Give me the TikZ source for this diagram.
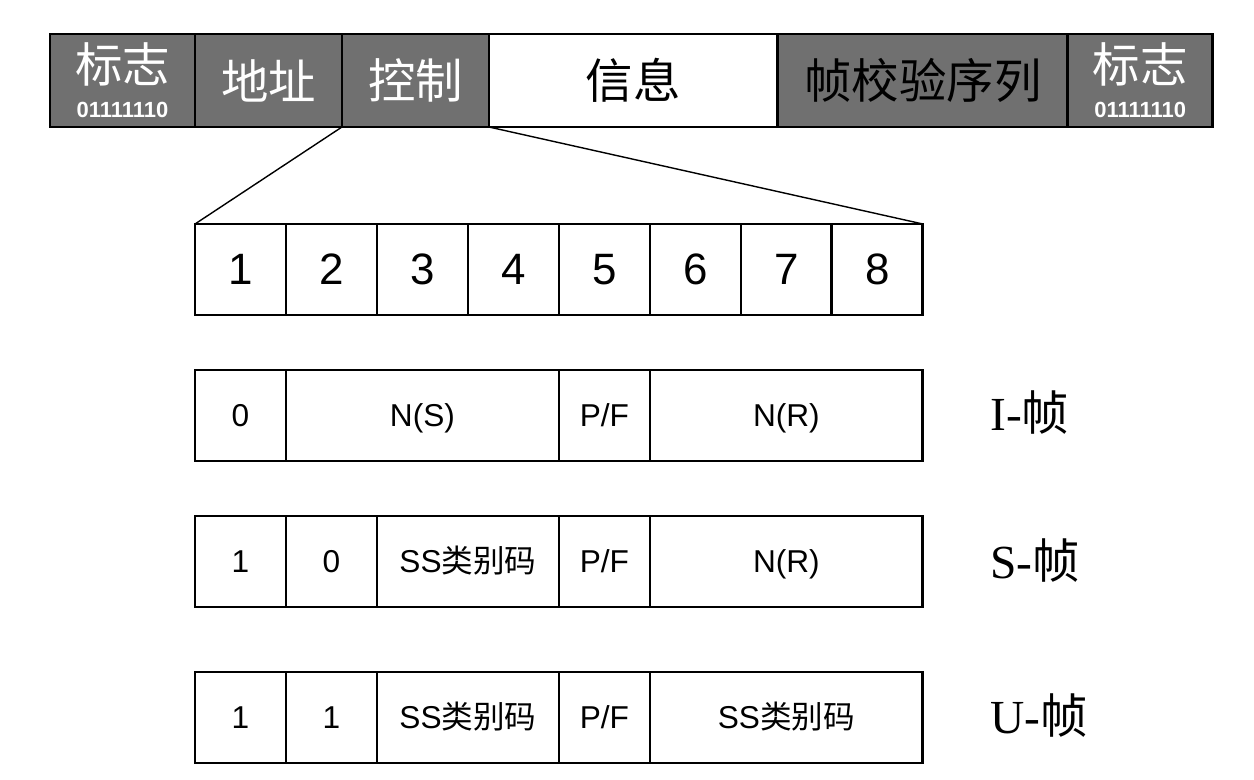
\documentclass[tikz,border=0pt]{standalone}
\usepackage{fontspec}
\usepackage{xcolor}
\newfontfamily\arial{Liberation Sans}
\newfontfamily\cjk{Noto Sans CJK SC}
\newfontfamily\timesr{Liberation Serif}
\usetikzlibrary{positioning}
\definecolor{fieldgray}{RGB}{112,112,112}

\tikzset{
    field/.style={draw, line width=1.6pt, inner sep=0pt, outer sep=0pt, align=center,
        minimum height=1.86cm, font=\cjk\fontsize{27}{20}\selectfont},
    grayfield/.style={field, fill=fieldgray},
    bitbox/.style={draw, line width=1.6pt, inner sep=0pt, outer sep=0pt,
        minimum width=1.82cm, minimum height=1.82cm, font=\arial\fontsize{25}{28}\selectfont},
    ctlbox/.style={draw, line width=1.6pt, inner sep=0pt, outer sep=0pt,
        text height=16pt, text depth=3.1pt,
        minimum height=1.82cm, font=\arial\fontsize{18}{20}\selectfont},
    kind/.style={anchor=west, inner sep=0pt, font=\timesr\fontsize{27}{30}\selectfont},
}
\newcommand{\flagbits}{{\arial\bfseries\fontsize{12.5}{20}\selectfont 01111110}}
\newcommand{\sscode}{SS{\cjk 类别码}}

\begin{document}
\begin{tikzpicture}[x=0.02cm, y=-0.02cm, node distance=0pt]
    \useasboundingbox (0,0) rectangle (1254,780);
    % frame
    \node [grayfield, text=white, minimum width=2.9cm] (flagl) at (122.5,80.5) {标志\\\flagbits};
    \node [grayfield, text=white, minimum width=2.94cm, right=of flagl] (addr) {地址};
    \node [grayfield, text=white, minimum width=2.94cm, right=of addr] (ctrl) {控制};
    \node [field, minimum width=5.78cm, right=of ctrl] (info) {信息};
    \node [grayfield, minimum width=5.8cm, right=of info] (fcs) {帧校验序列};
    \node [grayfield, text=white, minimum width=2.9cm, right=of fcs] (flagr) {标志\\\flagbits};

    % bits
    \node [bitbox] (b1) at (240.5,269.5) {1};
    \node [bitbox, right=of b1] (b2) {2};
    \node [bitbox, right=of b2] (b3) {3};
    \node [bitbox, right=of b3] (b4) {4};
    \node [bitbox, right=of b4] (b5) {5};
    \node [bitbox, right=of b5] (b6) {6};
    \node [bitbox, right=of b6] (b7) {7};
    \node [bitbox, right=of b7] (b8) {8};
    \draw [line width=0.8pt] (ctrl.south west) -- (b1.north west);
    \draw [line width=0.8pt] (info.south west) -- (b8.north east);

    % I-frame
    \node [ctlbox, minimum width=1.82cm] (i1) at (240.5,415.5) {0};
    \node [ctlbox, minimum width=5.46cm, right=of i1] (ins) {N(S)};
    \node [ctlbox, minimum width=1.82cm, right=of ins] (ipf) {P/F};
    \node [ctlbox, minimum width=5.46cm, right=of ipf] (inr) {N(R)};
    \node [kind] (ilabel) at (990,413) {I-{\cjk 帧}};

    % S-frame
    \node [ctlbox, minimum width=1.82cm] (s1) at (240.5,561.5) {1};
    \node [ctlbox, minimum width=1.82cm, right=of s1] (s2) {0};
    \node [ctlbox, minimum width=3.64cm, right=of s2] (sss) {\sscode};
    \node [ctlbox, minimum width=1.82cm, right=of sss] (spf) {P/F};
    \node [ctlbox, minimum width=5.46cm, right=of spf] (snr) {N(R)};
    \node [kind] (slabel) at (990,561) {S-{\cjk 帧}};

    % U-frame
    \node [ctlbox, minimum width=1.82cm] (u1) at (240.5,717.5) {1};
    \node [ctlbox, minimum width=1.82cm, right=of u1] (u2) {1};
    \node [ctlbox, minimum width=3.64cm, right=of u2] (uss) {\sscode};
    \node [ctlbox, minimum width=1.82cm, right=of uss] (upf) {P/F};
    \node [ctlbox, minimum width=5.46cm, right=of upf] (umm) {\sscode};
    \node [kind] (ulabel) at (990,716) {U-{\cjk 帧}};
\end{tikzpicture}
\end{document}
